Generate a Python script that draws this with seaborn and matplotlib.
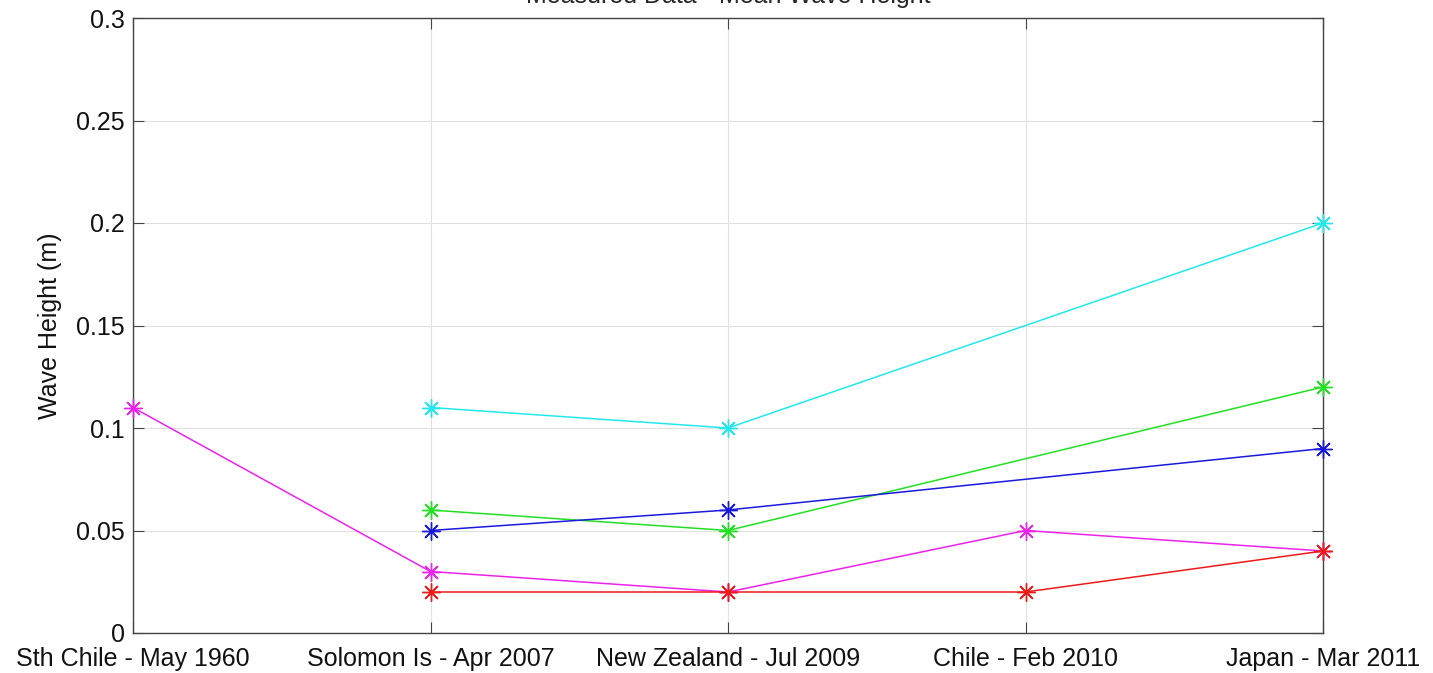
import numpy as np
import pandas as pd
import seaborn as sns
import matplotlib.pyplot as plt

# events along the x axis
events = ["Sth Chile - May 1960", "Solomon Is - Apr 2007", "New Zealand - Jul 2009",
          "Chile - Feb 2010", "Japan - Mar 2011"]

# mean wave height (m) per gauge, nan = no record
cyan_vals = [np.nan, 0.11, 0.10, np.nan, 0.20]
green_vals = [np.nan, 0.06, 0.05, np.nan, 0.12]
blue_vals = [np.nan, 0.05, 0.06, np.nan, 0.09]
magenta_vals = [0.11, 0.03, 0.02, 0.05, 0.04]
red_vals = [np.nan, 0.02, 0.02, 0.02, 0.04]

series = {"cyan": cyan_vals, "green": green_vals, "blue": blue_vals,
          "magenta": magenta_vals, "red": red_vals}
colors = {"cyan": "#22e8ee", "green": "#22e022", "blue": "#1a1add",
          "magenta": "#ee22ee", "red": "#ee1a1a"}

rows = []
for name, vals in series.items():
    for i, v in enumerate(vals):
        if not np.isnan(v):
            rows.append({"series": name, "x": i, "height": v})
df = pd.DataFrame(rows)

sns.set_style("ticks")
plt.rcParams["font.family"] = ["Liberation Sans", "DejaVu Sans"]

fig = plt.figure(figsize=(14.33, 6.73), dpi=100)
ax = fig.add_axes([133/1433, 1 - 633/673, (1323-133)/1433, (633-18)/673])

for name in series:
    sub = df[df["series"] == name]
    sns.lineplot(data=sub, x="x", y="height", color=colors[name], marker=(8, 2, 0),
                 markersize=13, markeredgewidth=1.0, markeredgecolor=colors[name],
                 linewidth=1.1, ax=ax, legend=False, sort=False, clip_on=False, zorder=3)

ax.set_xlim(0, 4)
ax.set_ylim(0, 0.3)
ax.set_xticks(range(len(events)))
ax.set_xticklabels(events, fontsize=18, color="#111111")
ax.set_yticks([0, 0.05, 0.1, 0.15, 0.2, 0.25, 0.3])
ax.set_yticklabels(["0", "0.05", "0.1", "0.15", "0.2", "0.25", "0.3"], fontsize=18,
                   color="#111111")
ax.set_xlabel("")
ax.set_ylabel("Wave Height (m)", fontsize=18, labelpad=10, color="#111111")
ax.grid(True, color="#e0e0e0", linewidth=0.8)
ax.set_axisbelow(True)
ax.tick_params(direction="in", top=True, right=True, length=8, color="#444444")
ax.tick_params(axis="x", pad=10)
ax.tick_params(axis="y", pad=6)
for s in ax.spines.values():
    s.set_visible(True)
    s.set_color("#444444")
    s.set_linewidth(1.0)
ax.set_title("Measured Data - Mean Wave Height", fontsize=18, pad=11)

fig.savefig("out.png", dpi=100)
